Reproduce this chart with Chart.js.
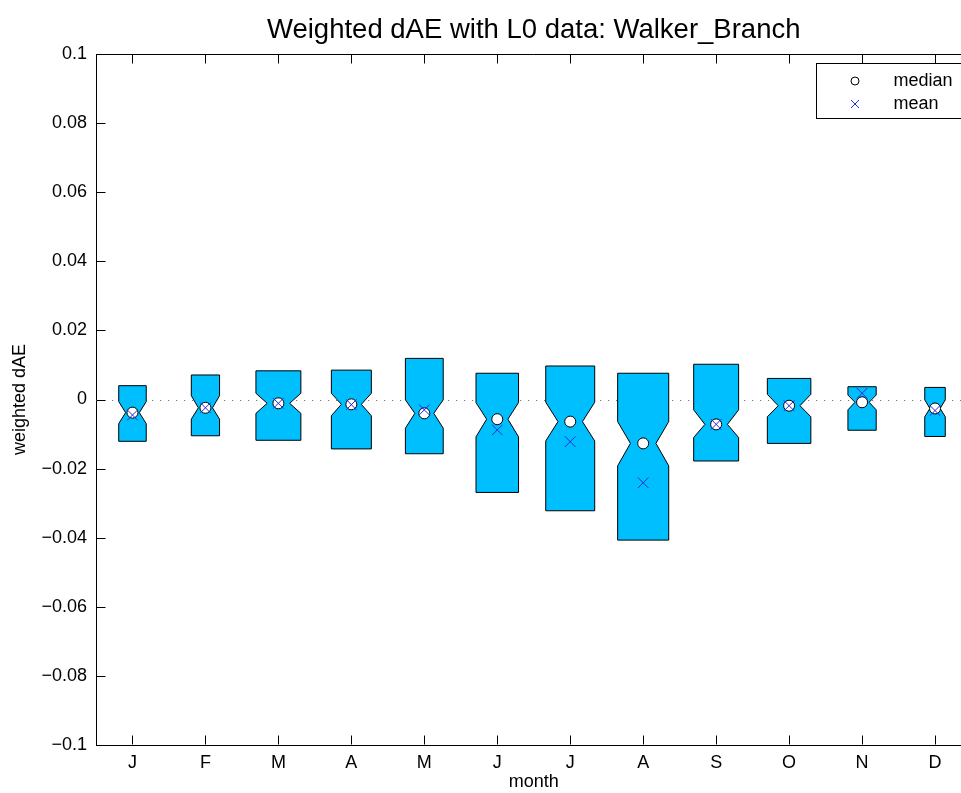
<!DOCTYPE html>
<html>
<head>
<meta charset="utf-8">
<script src="https://cdn.jsdelivr.net/npm/chart.js@4/dist/chart.umd.min.js"></script>
<style>
  html, body { margin: 0; padding: 0; background: #fff; overflow: hidden; }
  #wrap { width: 975px; height: 793px; }
</style>
</head>
<body>
<div id="wrap"><canvas id="c" width="975" height="793"></canvas></div>
<script>
// Monthly weighted dAE statistics, Walker_Branch, L0 data
const months   = ['J', 'F', 'M', 'A', 'M', 'J', 'J', 'A', 'S', 'O', 'N', 'D'];
const q3       = [0.0040, 0.0071, 0.0083, 0.0085, 0.0119, 0.0076, 0.0097, 0.0076, 0.0102, 0.0061, 0.0037, 0.0035];
const q1       = [-0.0121, -0.0105, -0.0118, -0.0143, -0.0157, -0.0269, -0.0322, -0.0407, -0.0178, -0.0127, -0.0089, -0.0107];
const medians  = [-0.0038, -0.0024, -0.0011, -0.0014, -0.0040, -0.0057, -0.0064, -0.0127, -0.0072, -0.0018, -0.0008, -0.0026];
const notchHi  = [-0.0006, 0.0011, 0.0018, 0.0018, -0.0001, -0.0009, -0.0008, -0.0064, -0.0030, 0.0015, 0.0013, -0.0001];
const notchLo  = [-0.0070, -0.0057, -0.0040, -0.0047, -0.0083, -0.0108, -0.0120, -0.0192, -0.0110, -0.0050, -0.0030, -0.0050];
const means    = [-0.0045, -0.0024, -0.0011, -0.0015, -0.0030, -0.0088, -0.0122, -0.0241, -0.0072, -0.0018, 0.0018, -0.0032];
const counts   = [18, 19, 48, 38, 34, 43, 57, 62, 48, 45, 19, 10];
const yTicks   = [-0.1, -0.08, -0.06, -0.04, -0.02, 0, 0.02, 0.04, 0.06, 0.08, 0.1];

const FONT = "'Liberation Sans', Arial, Helvetica, sans-serif";
const BOX_FILL = '#00BFFF';
const MEAN_COLOR = 'rgb(40,40,220)';
const TICK_LEN = 9;

Chart.defaults.font.family = FONT;
Chart.defaults.color = '#000';

function fmtTick(v) {
  if (Math.abs(v) < 1e-12) return '0';
  const s = String(Number(Math.abs(v).toFixed(2)));
  return (v < 0 ? '\u2212' : '') + s;
}

// Notched boxes (variable width, sqrt of sample count) and the zero reference line
const notchedBoxes = {
  id: 'notchedBoxes',
  beforeDatasetsDraw(chart) {
    const { ctx, chartArea: a, scales: { x, y } } = chart;
    ctx.save();
    const y0 = Math.round(y.getPixelForValue(0)) + 0.5;
    ctx.strokeStyle = '#777';
    ctx.lineWidth = 1;
    ctx.setLineDash([1.2, 6.8]);
    ctx.beginPath();
    ctx.moveTo(a.left, y0);
    ctx.lineTo(a.right, y0);
    ctx.stroke();
    ctx.setLineDash([]);

    const band = x.getPixelForValue(1) - x.getPixelForValue(0);
    const nMax = Math.max(...counts);
    months.forEach((m, i) => {
      const cx = x.getPixelForValue(i);
      const hw = 0.35 * band * Math.sqrt(counts[i] / nMax);
      const yT = y.getPixelForValue(q3[i]);
      const yB = y.getPixelForValue(q1[i]);
      const yH = y.getPixelForValue(notchHi[i]);
      const yL = y.getPixelForValue(notchLo[i]);
      const yM = y.getPixelForValue(medians[i]);
      ctx.beginPath();
      ctx.moveTo(cx - hw, yT);
      ctx.lineTo(cx + hw, yT);
      ctx.lineTo(cx + hw, yH);
      ctx.lineTo(cx + hw / 2, yM);
      ctx.lineTo(cx + hw, yL);
      ctx.lineTo(cx + hw, yB);
      ctx.lineTo(cx - hw, yB);
      ctx.lineTo(cx - hw, yL);
      ctx.lineTo(cx - hw / 2, yM);
      ctx.lineTo(cx - hw, yH);
      ctx.closePath();
      ctx.fillStyle = BOX_FILL;
      ctx.fill();
      ctx.strokeStyle = '#000';
      ctx.lineWidth = 1;
      ctx.stroke();
    });
    ctx.restore();
  }
};

// Box frame with inward tick marks, plus the marker legend
const frameAndLegend = {
  id: 'frameAndLegend',
  afterDraw(chart) {
    const { ctx, chartArea: a, scales: { x, y } } = chart;
    ctx.save();
    ctx.strokeStyle = '#000';
    ctx.lineWidth = 1;
    ctx.beginPath();
    const top = Math.round(a.top) + 0.5;
    const bot = Math.round(a.bottom) - 0.5;
    const lft = Math.round(a.left) + 0.5;
    const rgt = Math.round(a.right) - 0.5;
    ctx.moveTo(a.left, top); ctx.lineTo(a.right, top);
    ctx.moveTo(rgt, a.top); ctx.lineTo(rgt, a.bottom);
    y.ticks.forEach(t => {
      const py = Math.round(y.getPixelForValue(t.value)) + 0.5;
      ctx.moveTo(lft, py); ctx.lineTo(lft + TICK_LEN, py);
      ctx.moveTo(rgt, py); ctx.lineTo(rgt - TICK_LEN, py);
    });
    months.forEach((m, i) => {
      const px = Math.round(x.getPixelForValue(i)) + 0.5;
      ctx.moveTo(px, bot); ctx.lineTo(px, bot - TICK_LEN);
      ctx.moveTo(px, top); ctx.lineTo(px, top + TICK_LEN);
    });
    ctx.stroke();

    const lx1 = Math.round(a.right - 10) + 0.5;
    const lx0 = lx1 - 146;
    const ly0 = Math.round(a.top + 8.5) + 0.5;
    const ly1 = ly0 + 55;
    ctx.fillStyle = '#fff';
    ctx.fillRect(lx0, ly0, lx1 - lx0, ly1 - ly0);
    ctx.strokeRect(lx0, ly0, lx1 - lx0, ly1 - ly0);
    const mx = lx0 + 38.5;
    const r1 = ly0 + 17.5, r2 = ly0 + 40.5;
    ctx.beginPath();
    ctx.arc(mx, r1, 4, 0, Math.PI * 2);
    ctx.fillStyle = '#fff';
    ctx.fill();
    ctx.strokeStyle = '#000';
    ctx.stroke();
    ctx.beginPath();
    ctx.strokeStyle = MEAN_COLOR;
    ctx.moveTo(mx - 4, r2 - 4); ctx.lineTo(mx + 4, r2 + 4);
    ctx.moveTo(mx - 4, r2 + 4); ctx.lineTo(mx + 4, r2 - 4);
    ctx.stroke();
    ctx.fillStyle = '#000';
    ctx.font = '18px ' + FONT;
    ctx.textAlign = 'left';
    ctx.textBaseline = 'middle';
    ctx.fillText('median', lx0 + 77, r1);
    ctx.fillText('mean', lx0 + 77, r2);
    ctx.restore();
  }
};

new Chart(document.getElementById('c'), {
  type: 'line',
  data: {
    labels: months,
    datasets: [
      {
        label: 'mean',
        data: means,
        showLine: false,
        pointStyle: 'crossRot',
        pointRadius: 7.5,
        pointBorderColor: MEAN_COLOR,
        pointBorderWidth: 1,
        order: 0
      },
      {
        label: 'median',
        data: medians,
        showLine: false,
        pointStyle: 'circle',
        pointRadius: 5.5,
        pointBackgroundColor: '#fff',
        pointBorderColor: '#000',
        pointBorderWidth: 1,
        order: 1
      }
    ]
  },
  options: {
    responsive: false,
    animation: false,
    devicePixelRatio: 1,
    // the plot box runs slightly past the right edge of the visible page
    layout: { autoPadding: false, padding: { left: 0, right: 3.5, top: 0, bottom: 0 } },
    plugins: {
      legend: { display: false },
      tooltip: { enabled: false },
      title: {
        display: true,
        fullSize: false,
        text: 'Weighted dAE with L0 data: Walker_Branch',
        color: '#000',
        font: { size: 27.5, weight: 'normal', family: FONT },
        padding: { top: 14, bottom: 7 }
      }
    },
    scales: {
      x: {
        type: 'category',
        offset: true,
        afterFit(s) { s.height = 48; s.paddingLeft = 0; s.paddingRight = 0; },
        grid: { display: true, drawOnChartArea: false, drawTicks: false },
        border: { display: true, color: '#000', width: 1 },
        ticks: { padding: 7, color: '#000', font: { size: 18 }, maxRotation: 0, autoSkip: false },
        title: { display: true, text: 'month', color: '#000', font: { size: 18 }, padding: { top: 0, bottom: 0 } }
      },
      y: {
        type: 'linear',
        min: -0.1,
        max: 0.1,
        afterFit(s) { s.width = 96; },
        afterBuildTicks(s) { s.ticks = yTicks.map(v => ({ value: v })); },
        grid: { display: true, drawOnChartArea: false, drawTicks: false },
        border: { display: true, color: '#000', width: 1 },
        ticks: { padding: 9, color: '#000', font: { size: 18 }, callback: v => fmtTick(v) },
        title: { display: true, text: 'weighted dAE', color: '#000', font: { size: 18 }, padding: { top: 9 } }
      }
    }
  },
  plugins: [notchedBoxes, frameAndLegend]
});
</script>
</body>
</html>
